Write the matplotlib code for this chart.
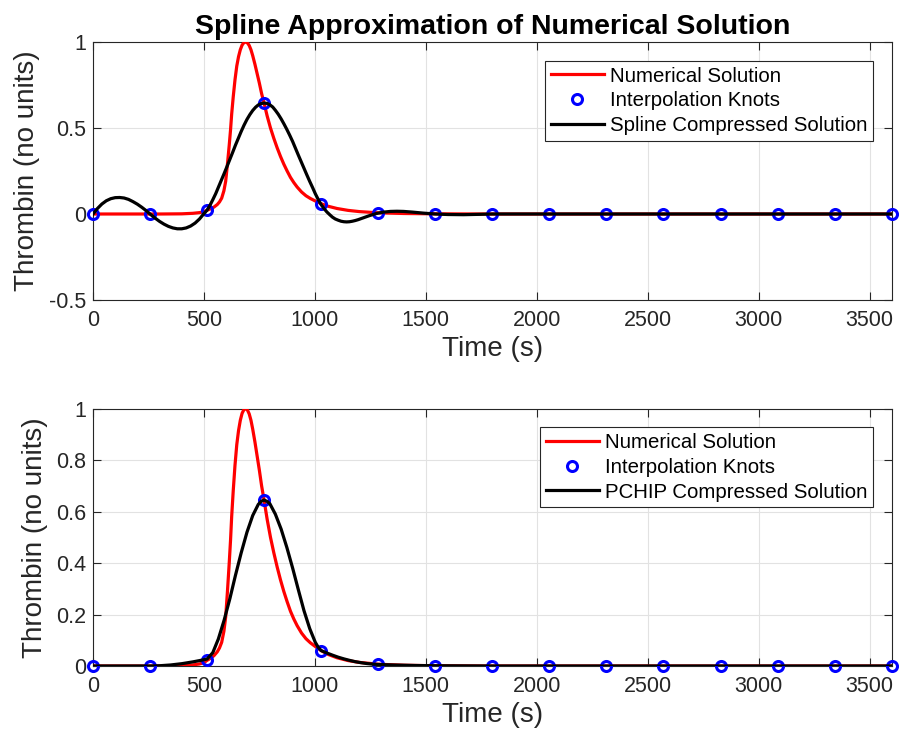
import matplotlib
matplotlib.use("Agg")
import matplotlib.pyplot as plt

# ---------------- data ----------------
t_num = [0, 100, 200, 300, 400, 450, 480, 500, 514, 530, 545, 560, 570, 580, 590,
         598, 606, 614, 620, 625, 632, 640, 648, 656, 664, 672, 680, 688, 696, 704,
         712, 720, 730, 740, 750, 760, 771, 785, 800, 815, 830, 845, 860, 875, 890,
         905, 920, 940, 960, 980, 1000, 1028, 1060, 1100, 1150, 1200, 1285, 1400,
         1542, 1700, 1800, 2500, 3600]
y_num = [0, 0, 0, 0, 0.001, 0.004, 0.008, 0.013, 0.022, 0.030, 0.040, 0.055, 0.070,
         0.092, 0.135, 0.19, 0.29, 0.40, 0.49, 0.58, 0.68, 0.78, 0.86, 0.915, 0.955,
         0.982, 0.996, 1.0, 0.995, 0.98, 0.955, 0.92, 0.87, 0.815, 0.76, 0.70, 0.645,
         0.57, 0.50, 0.44, 0.385, 0.335, 0.29, 0.25, 0.213, 0.183, 0.157, 0.128, 0.106,
         0.09, 0.077, 0.06, 0.045, 0.032, 0.021, 0.014, 0.007, 0.003, 0.001, 0.0003,
         0, 0, 0]

t_knots = [0, 257, 514, 771, 1029, 1286, 1543, 1800, 2057, 2314, 2571, 2829, 3086,
           3343, 3600]
y_knots = [0, 0, 0.022, 0.645, 0.058, 0.006, 0.001, 0, 0, 0, 0, 0, 0, 0, 0]

t_spline = [0, 20, 40, 60, 80, 100, 120, 140, 160, 180, 200, 220, 240, 257, 280, 300,
            320, 340, 360, 380, 400, 420, 440, 460, 480, 500, 514, 527, 540, 553, 565,
            578, 591, 604, 617, 630, 642, 655, 668, 681, 694, 707, 720, 733, 745, 758,
            771, 784, 797, 810, 822, 835, 848, 861, 874, 887, 900, 912, 925, 938, 951,
            964, 977, 990, 1002, 1015, 1028, 1041, 1054, 1067, 1079, 1092, 1105, 1118,
            1131, 1143, 1156, 1169, 1182, 1195, 1208, 1221, 1234, 1247, 1260, 1272,
            1285, 1310, 1340, 1370, 1400, 1440, 1490, 1542, 1600, 1670, 1740, 1800,
            2057, 3600]
y_spline = [0, 0.032, 0.058, 0.077, 0.089, 0.095, 0.096, 0.093, 0.085, 0.072, 0.057,
            0.039, 0.019, 0.0, -0.024, -0.043, -0.059, -0.072, -0.081, -0.086, -0.086,
            -0.081, -0.070, -0.053, -0.029, 0.002, 0.022, 0.05, 0.083, 0.118, 0.155,
            0.195, 0.235, 0.276, 0.318, 0.36, 0.40, 0.44, 0.48, 0.517, 0.55, 0.578,
            0.602, 0.621, 0.634, 0.642, 0.645, 0.643, 0.635, 0.622, 0.603, 0.58, 0.553,
            0.523, 0.491, 0.457, 0.421, 0.384, 0.344, 0.305, 0.266, 0.227, 0.189, 0.153,
            0.118, 0.085, 0.055, 0.032, 0.012, -0.004, -0.018, -0.029, -0.036, -0.042,
            -0.045, -0.046, -0.045, -0.042, -0.038, -0.033, -0.027, -0.021, -0.015,
            -0.009, -0.004, 0.001, 0.005, 0.011, 0.015, 0.016, 0.015, 0.011, 0.005, 0.0,
            -0.003, -0.004, -0.002, 0, 0, 0]

t_pchip = [0, 257, 300, 350, 400, 450, 480, 514, 540, 565, 591, 617, 642, 668, 694,
           720, 745, 758, 771, 784, 797, 822, 848, 874, 900, 925, 951, 977, 1002, 1015,
           1028, 1054, 1080, 1105, 1131, 1157, 1182, 1208, 1234, 1260, 1285, 1350,
           1450, 1542, 1800, 3600]
y_pchip = [0, 0, 0.001, 0.004, 0.009, 0.016, 0.021, 0.027, 0.052, 0.105, 0.178, 0.262,
           0.352, 0.44, 0.52, 0.585, 0.628, 0.64, 0.645, 0.64, 0.631, 0.59, 0.532, 0.46,
           0.38, 0.298, 0.215, 0.145, 0.092, 0.073, 0.06, 0.0506, 0.042, 0.0343, 0.0276,
           0.0218, 0.0168, 0.0129, 0.0096, 0.0073, 0.006, 0.004, 0.002, 0.001, 0, 0]

x_ticks = [0, 500, 1000, 1500, 2000, 2500, 3000, 3500]
x_ticklabels = ["0", "500", "1000", "1500", "2000", "2500", "3000", "3500"]
y_ticks_top = [-0.5, 0, 0.5, 1]
y_ticklabels_top = ["-0.5", "0", "0.5", "1"]
y_ticks_bot = [0, 0.2, 0.4, 0.6, 0.8, 1]
y_ticklabels_bot = ["0", "0.2", "0.4", "0.6", "0.8", "1"]

title = "Spline Approximation of Numerical Solution"
labels_top = ["Numerical Solution", "Interpolation Knots", "Spline Compressed Solution"]
labels_bot = ["Numerical Solution", "Interpolation Knots", "PCHIP Compressed Solution"]

# ---------------- styling ----------------
plt.rcParams['font.family'] = ['Liberation Sans', 'DejaVu Sans']
AX_COL = '#262626'
GRID_COL = '#e2e2e2'

W, H = 899, 740
fig = plt.figure(figsize=(W / 100, H / 100), dpi=100)


def axes_px(left, top, right, bottom):
    return fig.add_axes([left / W, 1 - bottom / H, (right - left) / W, (bottom - top) / H])


ax1 = axes_px(93, 42, 891.7, 300)
ax2 = axes_px(93, 408.7, 891.7, 666)


def style(ax, yt, ytl, ylim):
    ax.set_xlim(0, 3600)
    ax.set_ylim(*ylim)
    ax.set_xticks(x_ticks)
    ax.set_xticklabels(x_ticklabels)
    ax.set_yticks(yt)
    ax.set_yticklabels(ytl)
    ax.grid(True, color=GRID_COL, linewidth=0.8)
    ax.set_axisbelow(True)
    for s in ax.spines.values():
        s.set_color(AX_COL)
        s.set_linewidth(0.8)
    ax.tick_params(direction='in', length=5.5, width=0.8, colors=AX_COL,
                   labelsize=15.5, top=True, right=True, pad=5)
    ax.tick_params(axis='x', pad=7)
    ax.set_xlabel("Time (s)", fontsize=20, color=AX_COL, labelpad=4)
    ax.set_ylabel("Thrombin (no units)", fontsize=20, color=AX_COL, labelpad=6)


def draw(ax, t_c, y_c, labels):
    ax.plot(t_num, y_num, color='#ff0000', linewidth=2.3, label=labels[0], zorder=3)
    ax.plot(t_knots, y_knots, linestyle='none', marker='o', markersize=7.2,
            markerfacecolor='none', markeredgecolor='#0000ff', markeredgewidth=2.2,
            label=labels[1], zorder=4, clip_on=False)
    ax.plot(t_c, y_c, color='black', linewidth=2.3, label=labels[2], zorder=5)
    leg = ax.legend(loc='upper right', bbox_to_anchor=(0.977, 0.927), borderaxespad=0,
                    fontsize=14.7, frameon=True, fancybox=False, framealpha=1,
                    edgecolor=AX_COL, handlelength=2.6, handletextpad=0.3,
                    labelspacing=0.28, borderpad=0.28, numpoints=1)
    leg.get_frame().set_linewidth(0.8)


style(ax1, y_ticks_top, y_ticklabels_top, (-0.5, 1))
draw(ax1, t_spline, y_spline, labels_top)
ax1.set_title(title, fontsize=20.5, fontweight='bold', pad=6)

style(ax2, y_ticks_bot, y_ticklabels_bot, (0, 1))
draw(ax2, t_pchip, y_pchip, labels_bot)

fig.savefig("out.png", dpi=100)
